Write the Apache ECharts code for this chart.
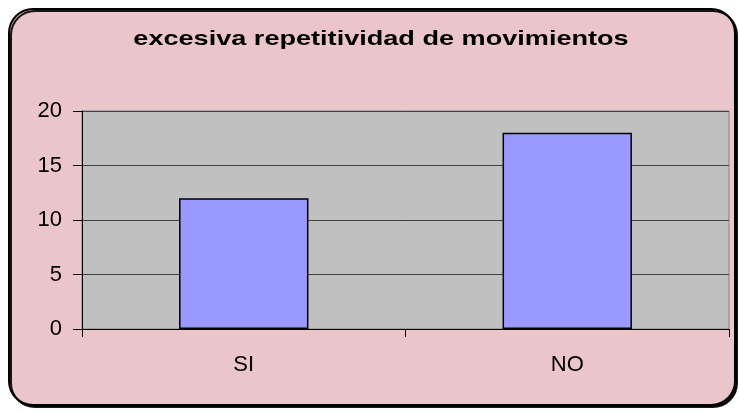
<!DOCTYPE html>
<html>
<head>
<meta charset="utf-8">
<script src="https://cdn.jsdelivr.net/npm/echarts@6/dist/echarts.min.js"></script>
<style>
  html, body { margin: 0; padding: 0; background: #ffffff; }
  #chart { width: 740px; height: 413px; }
</style>
</head>
<body>
<div id="chart"></div>
<script>
const titleText = 'excesiva repetitividad de movimientos';
const categories = ['SI', 'NO'];
const values = [12, 18];
const yTicks = { min: 0, max: 20, interval: 5 };

const chart = echarts.init(document.getElementById('chart'));

const option = {
    backgroundColor: '#ffffff',
    animation: false,
    graphic: [
        {
            type: 'rect',
            z: -10,
            shape: { x: 9, y: 9, width: 726, height: 396, r: 24 },
            style: {
                fill: '#eac5c9',
                stroke: '#000000',
                lineWidth: 2,
                shadowColor: 'rgba(0,0,0,0.9)',
                shadowOffsetX: 2,
                shadowOffsetY: 2,
                shadowBlur: 0
            }
        },
        {
            // titre étiré comme dans l'original
            type: 'text',
            x: 381,
            y: 39,
            scaleX: 1.29,
            style: {
                text: titleText,
                font: 'bold 21px "Liberation Sans"',
                fill: '#000000',
                textAlign: 'center',
                textVerticalAlign: 'middle'
            }
        }
    ],
    grid: {
        left: 82,
        right: 11,
        top: 111,
        bottom: 84,
        show: true,
        backgroundColor: '#c0c0c0',
        borderColor: '#808080',
        borderWidth: 1
    },
    xAxis: {
        type: 'category',
        data: categories,
        boundaryGap: true,
        axisLine: { lineStyle: { color: '#000000', width: 1 } },
        axisTick: { show: true, length: 8, lineStyle: { color: '#000000' } },
        axisLabel: {
            margin: 25,
            fontFamily: 'Liberation Sans',
            fontSize: 22,
            color: '#000000'
        }
    },
    yAxis: {
        type: 'value',
        min: yTicks.min,
        max: yTicks.max,
        interval: yTicks.interval,
        axisLine: { show: true, lineStyle: { color: '#000000', width: 1 } },
        axisTick: { show: true, length: 9, lineStyle: { color: '#000000' } },
        splitLine: { show: true, lineStyle: { color: '#404040', width: 1 } },
        axisLabel: {
            margin: 20,
            fontFamily: 'Liberation Sans',
            fontSize: 22,
            color: '#000000'
        }
    },
    series: [
        {
            type: 'bar',
            data: values,
            barWidth: '40%',
            itemStyle: {
                color: '#9999ff',
                borderColor: '#000000',
                borderWidth: 1.5
            }
        }
    ]
};

chart.setOption(option);
</script>
</body>
</html>
